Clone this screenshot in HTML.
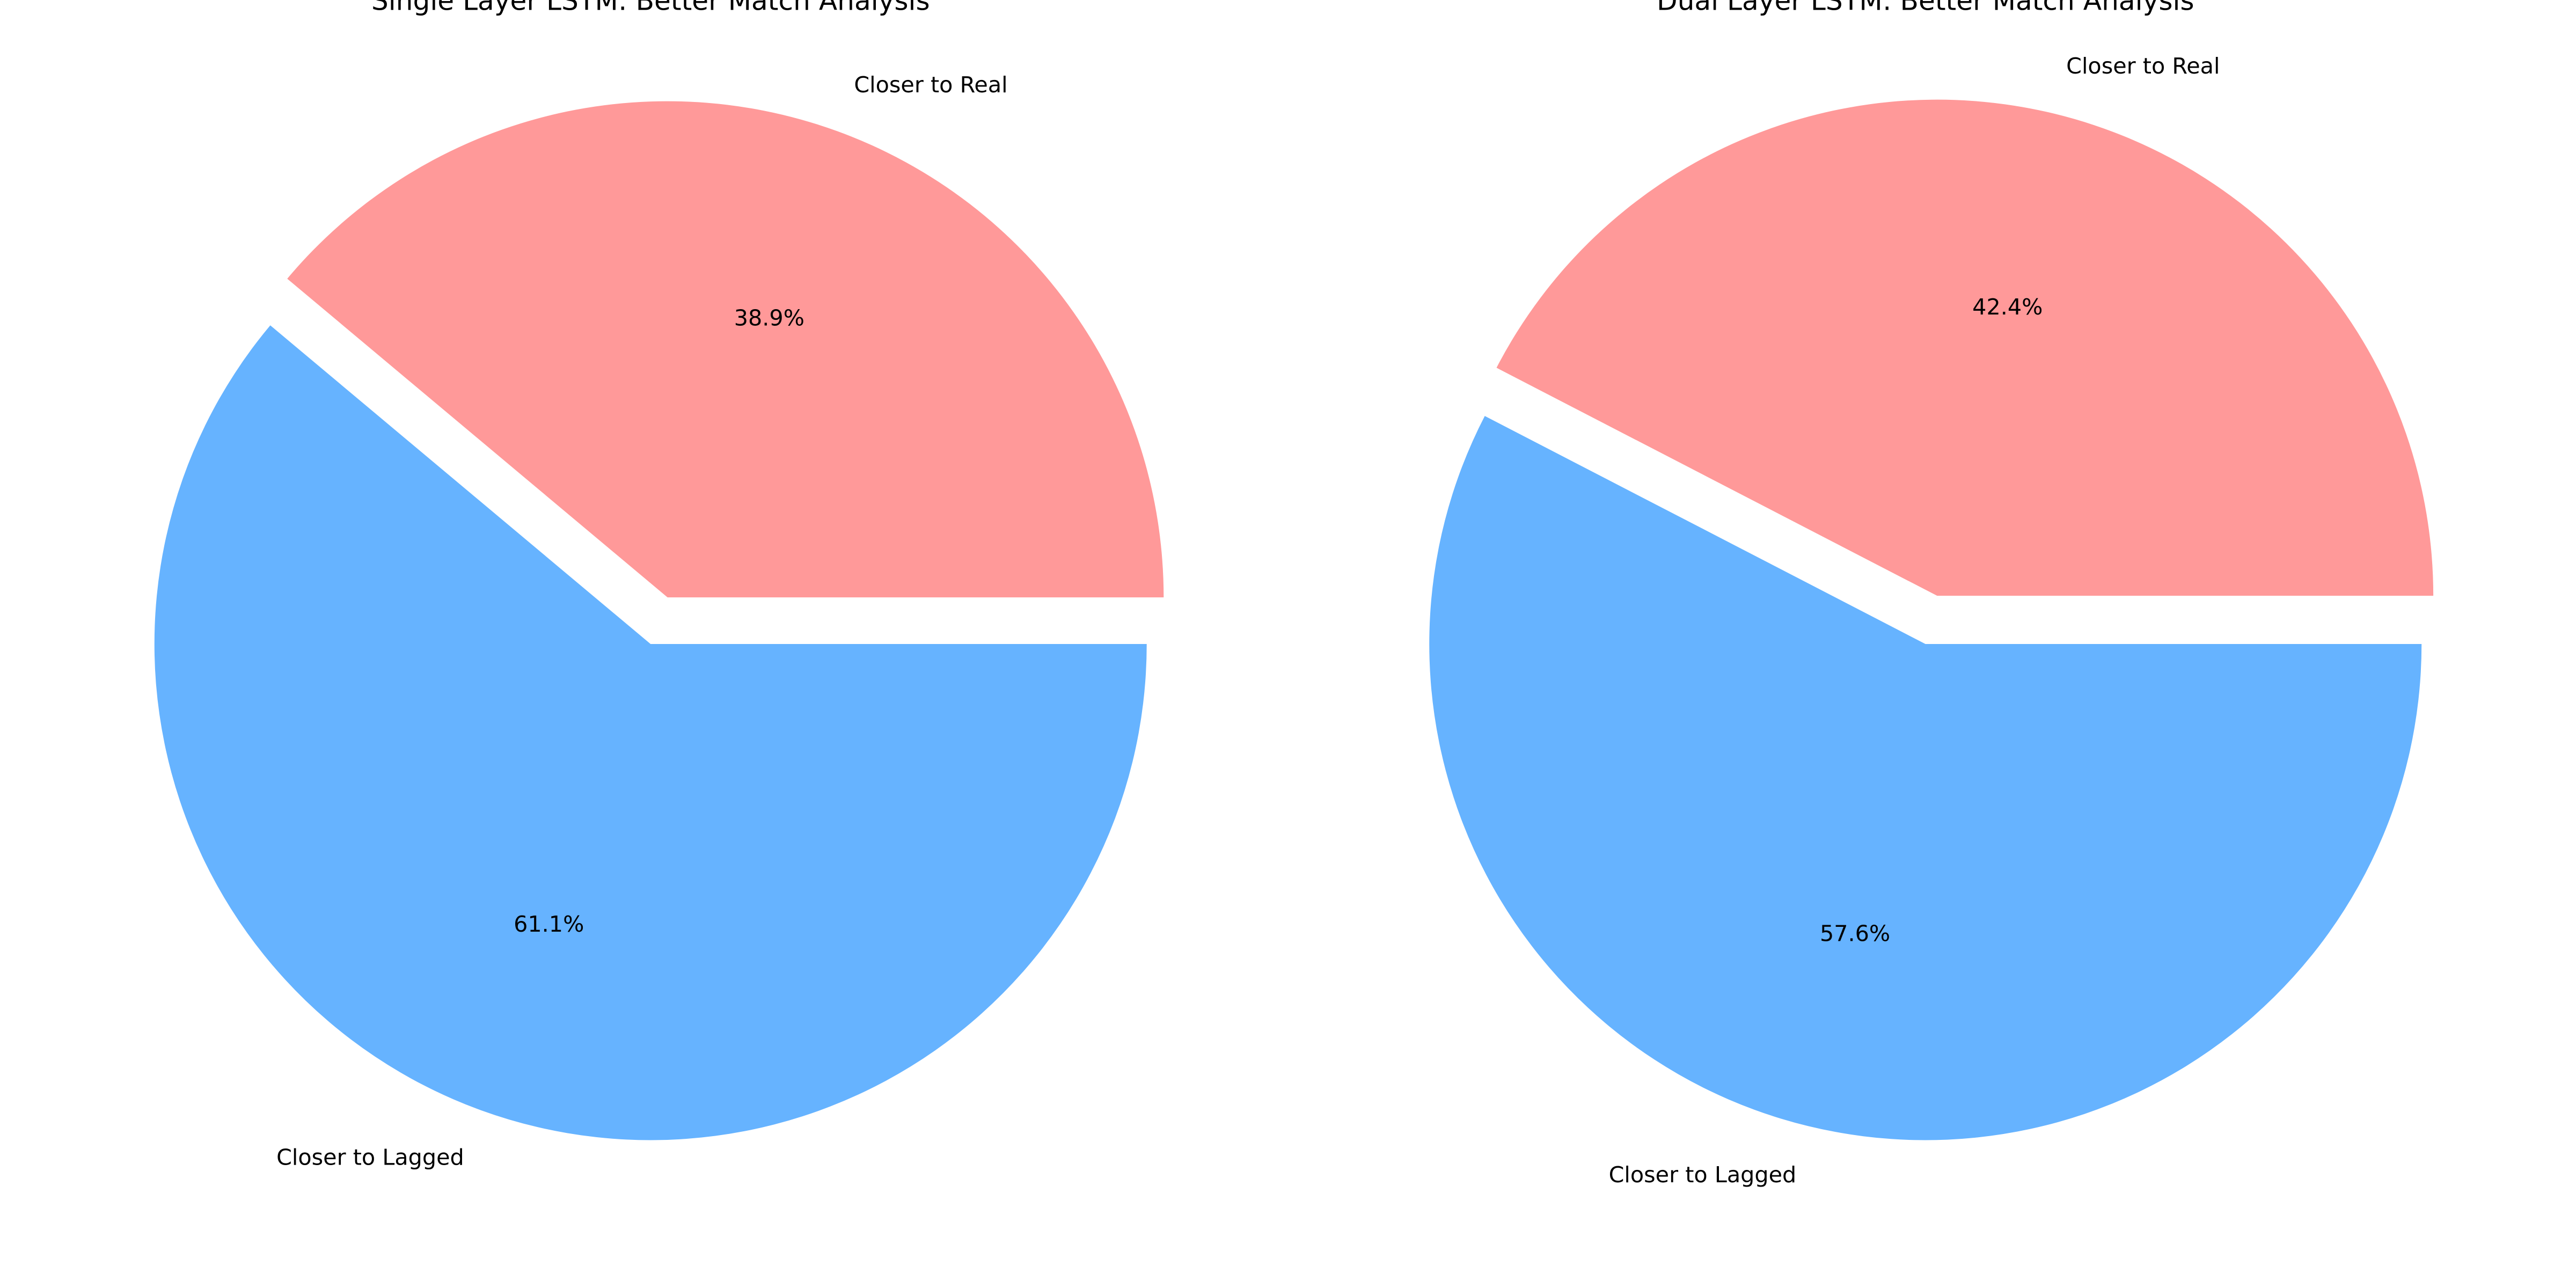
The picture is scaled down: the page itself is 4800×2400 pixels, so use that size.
<!DOCTYPE html>
<html><head><meta charset="utf-8"><style>
html,body{margin:0;padding:0;background:#fff;}
svg{display:block;}
text{font-family:"DejaVu Sans","Liberation Sans",sans-serif;fill:#000;}
</style></head>
<body>
<svg id="chart" width="4800" height="2400" viewBox="0 0 1568 784" xmlns="http://www.w3.org/2000/svg"></svg>
<script>
const chartTitles = ["Single Layer LSTM: Better Match Analysis", "Dual Layer LSTM: Better Match Analysis"];
const sliceLabels = ["Closer to Real", "Closer to Lagged"];
const singleValues = [38.9, 61.1];
const dualValues = [42.4, 57.6];
const sliceColors = ["#ff9999", "#66b3ff"];
const explode = [0.1, 0];

const svg = document.getElementById('chart');
const NS = 'http://www.w3.org/2000/svg';
function mk(tag, attrs){const e=document.createElementNS(NS,tag);for(const k in attrs)e.setAttribute(k,attrs[k]);svg.appendChild(e);return e;}

function drawPie(values, cx, cy, r, title, idx){
  const t = mk('text',{x:cx,y:6,'text-anchor':'middle','font-size':16.4});
  t.textContent = title;
  
  
  const total = values.reduce((a,b)=>a+b,0);
  let start = 0;
  values.forEach((v,i)=>{
    const sweep = v/total*360;
    const mid = (start + sweep/2)*Math.PI/180;
    const ox = cx + explode[i]*r*Math.cos(mid);
    const oy = cy - explode[i]*r*Math.sin(mid);
    const a0 = start*Math.PI/180, a1=(start+sweep)*Math.PI/180;
    const x0=ox+r*Math.cos(a0), y0=oy-r*Math.sin(a0);
    const x1=ox+r*Math.cos(a1), y1=oy-r*Math.sin(a1);
    const large = sweep>180?1:0;
    const p = mk('path',{d:`M${ox},${oy} L${x0},${y0} A${r},${r} 0 ${large} 0 ${x1},${y1} Z`,fill:sliceColors[i]});
    
    
    const lx = ox + 1.1*r*Math.cos(mid), ly = oy - 1.1*r*Math.sin(mid);
    const lt = mk('text',{x:lx,y:ly+4.8,'text-anchor':Math.cos(mid)>=0?'start':'end','font-size':13.5});
    lt.textContent = sliceLabels[i];
    
    
    const px = ox + 0.6*r*Math.cos(mid), py = oy - 0.6*r*Math.sin(mid);
    const pt = mk('text',{x:px,y:py+4.8,'text-anchor':'middle','font-size':13.5});
    pt.textContent = v.toFixed(1)+'%';
    
    
    start += sweep;
  });
}
drawPie(singleValues, 396, 392, 302, chartTitles[0], 'single');
drawPie(dualValues, 1172, 392, 302, chartTitles[1], 'dual');
</script>
</body></html>
